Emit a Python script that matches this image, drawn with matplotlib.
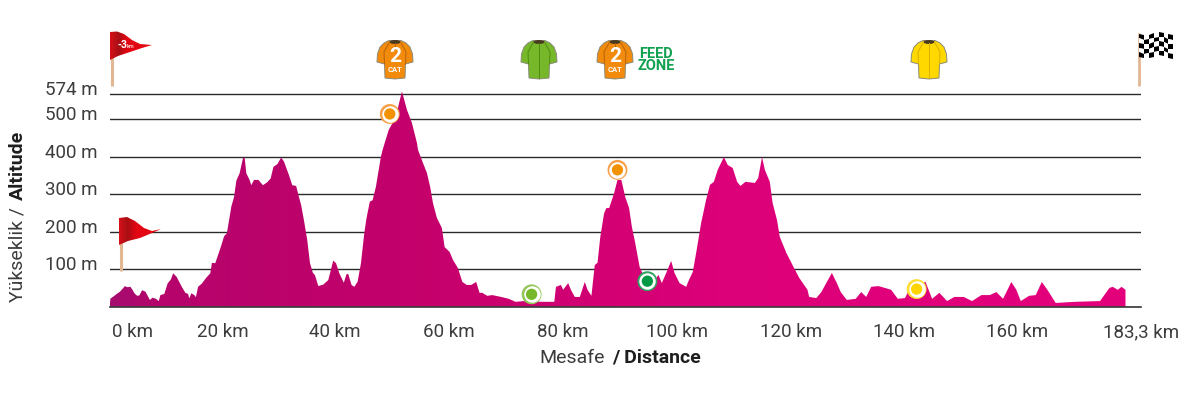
import matplotlib
matplotlib.use("Agg")
import matplotlib.pyplot as plt
import numpy as np
from matplotlib.colors import LinearSegmentedColormap
from matplotlib.patches import Polygon, Ellipse
from matplotlib.transforms import ScaledTranslation

plt.rcParams["font.family"] = ["Roboto", "DejaVu Sans"]

# Stage profile: distance along the route (km) and altitude (m)
route_km = [0, 0.1, 0.6, 1.2, 1.8, 2.7, 3.1, 3.7, 4.1, 4.4, 4.9, 5.3, 5.8, 6.4, 6.8, 7.2, 7.7, 8.3, 8.8, 9.1,
            9.8, 10.4, 11.0, 11.4, 12.0, 12.4, 13.0, 13.6, 14.1, 14.3, 14.7, 15.3, 15.5, 15.9, 16.6, 17.3, 18.1,
            18.4, 19.0, 19.6, 20.1, 20.6, 21.1, 21.5, 21.9, 22.4, 22.8, 23.4, 24.0, 24.3, 24.6, 25.2, 25.5, 26.0,
            26.8, 27.6, 28.4, 29.0, 29.5, 30.2, 30.9, 31.4, 32.3, 32.9, 33.6, 34.1, 34.5, 35.0, 35.6, 36.1, 36.6,
            37.0, 37.6, 38.5, 39.4, 40.3, 40.8, 41.4, 42.2, 42.7, 43.0, 43.6, 44.1, 44.7, 45.3, 45.9, 46.3, 46.9,
            47.4, 48.0, 48.9, 49.2, 50.3, 51.6, 52.1, 52.7, 53.6, 54.5, 55.4, 55.6, 56.5, 57.2, 57.8, 58.3, 59.0,
            59.9, 60.4, 61.3, 61.9, 62.8, 63.6, 64.4, 65.2, 66.1, 66.7, 67.2, 68.1, 69.0, 70.6, 72.0, 73.2, 74.7,
            78.2, 80.2, 80.5, 81.4, 81.8, 82.7, 83.2, 83.9, 84.8, 85.7, 86.2, 86.9, 87.5, 88.0, 88.5, 89.2, 89.6,
            90.1, 91.0, 91.6, 92.3, 93.0, 93.7, 94.2, 94.8, 95.6, 96.5, 98.1, 99.0, 99.6, 100.4, 101.3, 101.9,
            102.8, 104.0, 104.5, 105.2, 105.8, 106.7, 107.6, 108.3, 109.0, 109.7, 110.8, 111.5, 112.4, 113.2,
            113.8, 114.7, 116.4, 117.0, 117.7, 118.2, 119.1, 119.6, 120.4, 120.9, 122.1, 123.2, 124.4, 125.9,
            126.2, 127.5, 128.4, 129.4, 130.3, 131.2, 131.9, 133.0, 134.6, 135.6, 136.5, 137.4, 138.7, 139.9,
            141.0, 142.2, 143.5, 144.5, 147.2, 148.4, 149.7, 151.1, 152.4, 154.1, 155.6, 157.3, 158.8, 160.0,
            161.2, 162.7, 163.6, 164.4, 165.9, 167.1, 168.2, 169.2, 170.7, 174.2, 178.7, 180.4, 181.0, 181.9,
            182.6, 183.3]
altitude_m = [12, 22, 27, 34, 40, 55, 52, 53, 44, 36, 29, 30, 44, 40, 29, 18, 24, 21, 15, 31,
              34, 62, 73, 89, 80, 69, 52, 37, 34, 22, 36, 30, 25, 53, 62, 76, 89,
              117, 116, 142, 164, 188, 196, 231, 267, 293, 336, 356, 396, 398, 356, 338, 324, 338,
              338, 324, 332, 342, 373, 380, 398, 387, 351, 324, 322, 293, 271, 231, 178, 116, 91,
              84, 55, 59, 71, 123, 116, 89, 64, 87, 87, 58, 53, 67, 116, 196, 236, 280,
              284, 320, 400, 418, 471, 506, 538, 574, 525, 490, 437, 418, 383, 357, 319, 276, 237,
              210, 159, 146, 125, 103, 66, 58, 58, 66, 37, 37, 29, 31, 26, 21, 13, 15,
              13, 13, 53, 58, 45, 63, 45, 26, 26, 66, 45, 29, 111, 117, 186, 250, 263,
              263, 303, 338, 338, 293, 263, 213, 170, 106, 77, 66, 85, 63, 90, 122, 90,
              63, 53, 71, 93, 143, 223, 285, 325, 333, 365, 399, 378, 370, 333,
              322, 333, 330, 343, 399, 365, 333, 277, 231, 186, 143, 111, 77, 45,
              26, 23, 39, 66, 90, 63, 39, 18, 21, 39, 26, 53, 55, 50,
              45, 21, 23, 53, 66, 21, 37, 15, 26, 26, 15, 31, 31, 39,
              21, 66, 45, 15, 29, 31, 66, 45, 10, 13, 15, 50, 53, 45,
              53, 45]

# Checkpoints on the route
checkpoint_km = [50.5, 76.1, 91.6, 97.0, 145.6]
checkpoint_alt = [514, 33, 365, 68, 47]
checkpoint_colors = ["#F39200", "#76B82A", "#F39200", "#009A44", "#FFD500"]
checkpoint_rings = ["#F7A04A", "#94C65A", "#F7A04A", "#2FA35F", "#FFDD33"]

# Altitude axis
grid_levels = [100, 200, 300, 400, 500, 567]
altitude_labels = ["100 m", "200 m", "300 m", "400 m", "500 m", "574 m"]

# Distance axis
distance_ticks = [4.1, 20.3, 40.6, 61.2, 81.8, 102.4, 123.0, 143.3, 163.7, 186.1]
distance_labels = ["0 km", "20 km", "40 km", "60 km", "80 km", "100 km", "120 km", "140 km", "160 km", "183,3 km"]

# Jerseys above the profile: centre in figure pixels, colour, category label
jerseys = [(395, "#F28A0C", "2"), (539, "#76B82A", None), (615, "#F28A0C", "2"), (929, "#FFD800", None)]

TEXT = "#3c3c3c"
DARK = "#1e1e1e"

fig = plt.figure(figsize=(12, 4), dpi=100)
W, H = 1200, 400
LEFT, RIGHT, BASE, TOP = 110, 1141, 306.7, 80
ax = fig.add_axes([LEFT / W, 1 - BASE / H, (RIGHT - LEFT) / W, (BASE - TOP) / H])
ax.set_xlim(0, 183.3)
ax.set_ylim(0, (BASE - TOP) / 0.375)
ax.patch.set_alpha(0)
for side in ("top", "left", "right"):
    ax.spines[side].set_visible(False)
ax.spines["bottom"].set_color("#333333")
ax.spines["bottom"].set_linewidth(1.2)
ax.spines["bottom"].set_zorder(6)

ax.set_yticks(grid_levels, altitude_labels)
ax.set_xticks(distance_ticks, distance_labels)
ax.tick_params(axis="both", length=0, labelsize=13.5, labelcolor=TEXT)
ax.tick_params(axis="x", pad=12)
ax.tick_params(axis="y", pad=9)
ax.grid(axis="y", color="#2b2b2b", lw=1.0, zorder=1)
ax.set_axisbelow(True)
for label in ax.get_yticklabels():
    label.set_transform(label.get_transform() + ScaledTranslation(0, 6 / 100, fig.dpi_scale_trans))

# Profile fill with a left-to-right colour ramp
ramp = LinearSegmentedColormap.from_list(
    "ramp", [(0, "#A60C6E"), (0.05, "#B5046C"), (0.3, "#C4006B"), (0.6, "#DC0079"), (1, "#E4007C")])
area = ax.fill_between(route_km, altitude_m, 0, color="none", lw=0, zorder=2)
img = ax.imshow(np.linspace(0, 1, 256)[None, :], cmap=ramp, aspect="auto", zorder=2,
                extent=(0, 183.3, 0, (BASE - TOP) / 0.375))
img.set_clip_path(area.get_paths()[0], transform=ax.transData)

# Checkpoint discs: coloured rim, white ring, coloured core
ax.scatter(checkpoint_km, checkpoint_alt, s=205, c=checkpoint_rings, lw=0, zorder=5, clip_on=False)
ax.scatter(checkpoint_km, checkpoint_alt, s=140, c="white", lw=0, zorder=5, clip_on=False)
ax.scatter(checkpoint_km, checkpoint_alt, s=66, c=checkpoint_colors, lw=0, zorder=5, clip_on=False)

# Overlay in figure pixels for flags, jerseys and captions
ov = fig.add_axes([0, 0, 1, 1], zorder=10)
ov.set_xlim(0, W)
ov.set_ylim(H, 0)
ov.axis("off")
ov.patch.set_alpha(0)


def jersey(cx, color, cat):
    top = 38
    half = [(0, 3), (6, 2.5), (11, 5), (15, 9), (17.5, 16), (18, 24), (10.5, 26), (10, 40), (0, 41)]
    pts = [(cx + x, top + y) for x, y in half] + [(cx - x, top + y) for x, y in half[::-1]]
    ov.add_patch(Polygon(pts, closed=True, fc=color, ec="#8a8a7a", lw=0.7, zorder=3))
    ov.add_patch(Ellipse((cx, top + 4), 11, 4, fc="#4a3a20", ec="none", zorder=4))
    shade = "#b5640a" if color == "#F28A0C" else ("#4f8a14" if color == "#76B82A" else "#d8b000")
    for sgn in (-1, 1):
        ov.plot([cx + sgn * 6, cx + sgn * 11, cx + sgn * 10.5], [top + 5, top + 14, top + 26],
                color=shade, lw=0.7, zorder=4)
    if cat:
        ov.plot([cx, cx], [top + 5, top + 11], color=shade, lw=0.7, zorder=4)
        ov.text(cx, top + 19, cat, color="white", fontsize=15, fontweight="bold", ha="center", va="center", zorder=5)
        ov.text(cx, top + 32, "CAT", color="white", fontsize=5.5, fontweight="bold", ha="center", va="center", zorder=5)
    else:
        ov.plot([cx, cx], [top + 5, top + 40], color=shade, lw=0.7, zorder=4)


for cx, color, cat in jerseys:
    jersey(cx, color, cat)

ov.text(656, 53.5, "FEED", color="#12A150", fontsize=10.5, fontweight="bold", ha="center", va="center")
ov.text(656, 66.5, "ZONE", color="#12A150", fontsize=10.5, fontweight="bold", ha="center", va="center")

POLE = "#E2B794"
red_flag = LinearSegmentedColormap.from_list(
    "flag", [(0, "#D5101A"), (0.2, "#A80F14"), (0.4, "#E30613"), (1, "#E30613")])


def pennant(outline, pole_x, pole_top, pole_bottom):
    ov.plot([pole_x, pole_x], [pole_top, pole_bottom], color=POLE, lw=2.2, solid_capstyle="butt", zorder=3)
    patch = Polygon(outline, closed=True, fc="none", ec="none", zorder=4)
    ov.add_patch(patch)
    xs = [p[0] for p in outline]
    ys = [p[1] for p in outline]
    im = ov.imshow(np.linspace(0, 1, 64)[None, :], cmap=red_flag, aspect="auto", zorder=4,
                   extent=(min(xs), max(xs), max(ys), min(ys)))
    im.set_clip_path(patch)


pennant([(110, 32), (117, 31.5), (124, 34), (132, 40), (140, 44), (152, 45), (142, 48), (130, 52), (118, 56), (110, 60)],
        111.5, 32, 86)
ov.text(122.5, 45.5, "-3", color="white", fontsize=7.5, fontweight="bold", ha="center", va="center", zorder=5)
ov.text(131, 47, "km", color="#f6c9c9", fontsize=4, fontweight="bold", ha="center", va="center", zorder=5)
pennant([(119, 218), (127, 217), (135, 221), (144, 228), (152, 231), (161, 229), (152, 233), (140, 238), (128, 241), (119, 245)],
        120.5, 218, 271)

# Chequered flag
cols = np.arange(0, 8)
rows = np.arange(0, 6)
cc, rr = np.meshgrid(cols, rows)
flag_x = 1139 + cc * 4.9
flag_y = 33.5 + rr * 4.7 + 1.6 * np.sin(cc * 1.15)
ov.pcolormesh(flag_x, flag_y, (cc[:-1, :-1] + rr[:-1, :-1]) % 2, cmap="gray", vmin=0, vmax=1.0,
              shading="flat", zorder=4, antialiased=True)
ov.plot([1138.5, 1138.5], [33, 86], color=POLE, lw=2, solid_capstyle="butt", zorder=3)
ov.set_xlim(0, W)
ov.set_ylim(H, 0)

# Axis captions in two weights
ov.text(605, 358, "Mesafe", color=TEXT, fontsize=14, ha="right", va="center")
ov.text(612, 358, "/ Distance", color=DARK, fontsize=14, fontweight="bold", ha="left", va="center")
ov.text(18, 302, "Yükseklik /", color=TEXT, fontsize=14, rotation=90, ha="center", va="bottom")
ov.text(18, 200, "Altitude", color=DARK, fontsize=14, fontweight="bold", rotation=90, ha="center", va="bottom")

fig.savefig("out.png", dpi=100, facecolor="white")
